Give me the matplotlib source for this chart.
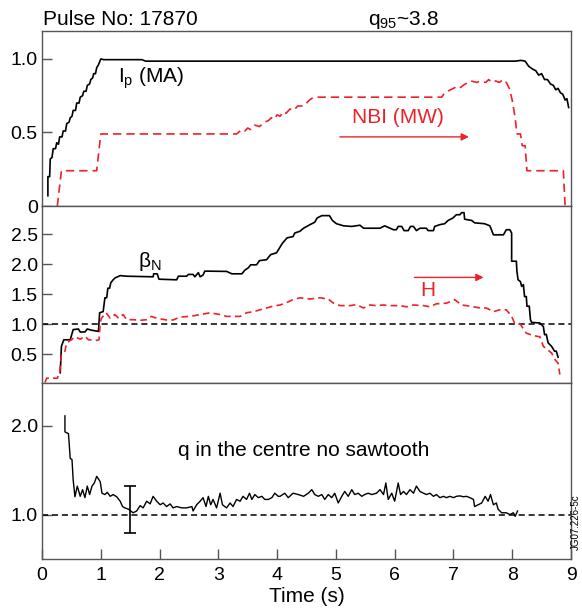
import numpy as np
import matplotlib
matplotlib.use("Agg")
import matplotlib.pyplot as plt

plt.rcParams['font.family'] = ['Liberation Sans', 'DejaVu Sans']
plt.rcParams['mathtext.default'] = 'regular'

RED = '#ec2228'
FRAME = '#555555'

# plasma current Ip (MA)
t_ip = [0.10, 0.10, 0.13, 0.14, 0.17, 0.19, 0.23, 0.25, 0.28, 0.30,
        0.34, 0.36, 0.40, 0.42, 0.46, 0.48, 0.51, 0.53, 0.57, 0.59,
        0.63, 0.65, 0.69, 0.71, 0.75, 0.77, 0.81, 0.83, 0.86, 0.88,
        0.91, 0.93, 0.96, 1.00, 1.05, 1.70, 1.76, 8.05, 8.15, 8.22,
        8.28, 8.35, 8.40, 8.45, 8.50, 8.55, 8.60, 8.65, 8.70, 8.74,
        8.78, 8.82, 8.86, 8.90, 8.93, 8.96]
ip = [0.07, 0.20, 0.20, 0.32, 0.33, 0.39, 0.39, 0.43, 0.42, 0.47,
      0.47, 0.51, 0.51, 0.56, 0.57, 0.60, 0.61, 0.65, 0.65, 0.70,
      0.70, 0.74, 0.75, 0.78, 0.78, 0.82, 0.83, 0.86, 0.87, 0.90,
      0.90, 0.94, 0.96, 1.00, 0.995, 0.995, 0.985, 0.985, 0.99, 0.985,
      0.95, 0.93, 0.92, 0.89, 0.90, 0.86, 0.86, 0.83, 0.82, 0.79,
      0.80, 0.77, 0.76, 0.72, 0.73, 0.67]

# NBI power (MW)
t_nbi = [0.26, 0.33, 0.93, 1.00, 3.31, 3.40, 3.45, 3.50, 3.55, 3.62,
         3.70, 3.78, 3.85, 3.90, 3.95, 4.00, 4.05, 4.10, 4.15, 4.22,
         4.28, 4.35, 4.45, 4.55, 4.62, 6.80, 6.85, 6.95, 7.05, 7.10,
         7.20, 7.30, 7.40, 7.45, 7.55, 7.60, 7.65, 7.72, 7.78, 7.85,
         7.90, 7.95, 8.00, 8.05, 8.08, 8.14, 8.17, 8.22, 8.25, 8.87,
         8.90]
nbi = [0.0, 0.24, 0.24, 0.49, 0.49, 0.52, 0.51, 0.53, 0.52, 0.55,
       0.54, 0.57, 0.58, 0.60, 0.59, 0.62, 0.61, 0.64, 0.63, 0.66,
       0.65, 0.68, 0.68, 0.72, 0.74, 0.74, 0.77, 0.79, 0.81, 0.80,
       0.83, 0.85, 0.84, 0.85, 0.84, 0.86, 0.84, 0.85, 0.84, 0.86,
       0.84, 0.80, 0.72, 0.60, 0.49, 0.49, 0.41, 0.41, 0.24, 0.24,
       0.0]

# normalised beta
t_bn = [0.31, 0.33, 0.37, 0.48, 0.53, 0.62, 0.65, 0.73, 0.77, 0.84,
        0.96, 0.98, 1.04, 1.07, 1.10, 1.12, 1.15, 1.17, 1.21, 1.24,
        1.33, 1.44, 1.89, 1.90, 1.96, 1.99, 2.29, 2.32, 2.46, 2.49,
        2.57, 2.60, 2.66, 2.69, 2.74, 2.77, 3.14, 3.23, 3.40, 3.45,
        3.51, 3.55, 3.65, 3.70, 3.82, 3.89, 3.99, 4.04, 4.09, 4.17,
        4.27, 4.30, 4.39, 4.45, 4.56, 4.64, 4.68, 4.76, 4.89, 4.94,
        5.01, 5.13, 5.27, 5.41, 5.47, 5.75, 5.83, 5.98, 6.03, 6.06,
        6.12, 6.16, 6.23, 6.27, 6.32, 6.37, 6.43, 6.54, 6.57, 6.66,
        6.68, 6.77, 6.85, 6.91, 6.99, 7.05, 7.11, 7.14, 7.18, 7.19,
        7.31, 7.36, 7.53, 7.62, 7.68, 7.85, 7.90, 7.96, 7.99, 7.99,
        8.07, 8.08, 8.10, 8.14, 8.16, 8.19, 8.21, 8.24, 8.25, 8.29,
        8.31, 8.33, 8.47, 8.53, 8.55, 8.58, 8.61, 8.67, 8.72, 8.75,
        8.78]
beta_n = [0.19, 0.63, 0.74, 0.74, 0.91, 0.92, 0.87, 0.87, 0.92, 0.90,
          0.88, 1.19, 1.21, 1.44, 1.44, 1.60, 1.60, 1.69, 1.74, 1.77,
          1.81, 1.80, 1.79, 1.84, 1.84, 1.75, 1.74, 1.80, 1.80, 1.83,
          1.83, 1.79, 1.86, 1.79, 1.82, 1.885, 1.88, 1.84, 1.84, 1.90,
          1.94, 1.99, 1.99, 2.06, 2.075, 2.16, 2.19, 2.27, 2.35, 2.44,
          2.46, 2.52, 2.55, 2.60, 2.66, 2.70, 2.77, 2.81, 2.81, 2.73,
          2.675, 2.64, 2.63, 2.65, 2.60, 2.60, 2.64, 2.575, 2.575, 2.63,
          2.63, 2.56, 2.56, 2.63, 2.63, 2.56, 2.60, 2.60, 2.56, 2.56,
          2.63, 2.66, 2.675, 2.73, 2.77, 2.825, 2.825, 2.86, 2.86, 2.75,
          2.73, 2.69, 2.675, 2.64, 2.49, 2.49, 2.575, 2.575, 2.52, 2.05,
          2.05, 1.88, 1.74, 1.71, 1.63, 1.66, 1.46, 1.46, 1.30, 1.30,
          1.075, 1.03, 1.02, 0.96, 0.825, 0.83, 0.69, 0.63, 0.55, 0.55,
          0.45]

# confinement factor H
t_h = [0.05, 0.08, 0.26, 0.30, 0.33, 0.39, 0.42, 0.50, 0.56, 0.65,
       0.73, 0.79, 0.93, 0.97, 0.99, 1.01, 1.09, 1.16, 1.24, 1.30,
       1.38, 1.44, 1.55, 1.67, 1.78, 1.86, 1.95, 2.12, 2.23, 2.35,
       2.52, 2.69, 2.86, 3.03, 3.14, 3.37, 3.48, 3.60, 3.71, 3.82,
       3.93, 4.05, 4.16, 4.27, 4.39, 4.56, 4.73, 4.87, 4.96, 5.07,
       5.24, 5.35, 5.47, 5.58, 5.69, 5.80, 5.92, 6.09, 6.20, 6.32,
       6.49, 6.60, 6.71, 6.88, 7.02, 7.14, 7.22, 7.34, 7.45, 7.56,
       7.68, 7.79, 7.90, 7.99, 8.04, 8.13, 8.24, 8.36, 8.47, 8.53,
       8.58, 8.67, 8.72, 8.78, 8.81]
h_fac = [0.03, 0.10, 0.10, 0.19, 0.49, 0.55, 0.69, 0.74, 0.79, 0.75,
         0.80, 0.74, 0.73, 0.74, 1.02, 1.10, 1.19, 1.10, 1.16, 1.10,
         1.16, 1.075, 1.075, 1.065, 1.075, 1.13, 1.10, 1.07, 1.07, 1.12,
         1.13, 1.16, 1.19, 1.16, 1.13, 1.13, 1.19, 1.21, 1.24, 1.27,
         1.30, 1.32, 1.36, 1.41, 1.44, 1.42, 1.44, 1.42, 1.35, 1.31,
         1.31, 1.325, 1.27, 1.32, 1.31, 1.32, 1.31, 1.31, 1.29, 1.32,
         1.31, 1.29, 1.34, 1.35, 1.41, 1.32, 1.31, 1.29, 1.27, 1.27,
         1.21, 1.24, 1.24, 1.13, 1.02, 1.01, 0.85, 0.81, 0.79, 0.63,
         0.59, 0.52, 0.42, 0.35, 0.16]

# central safety factor q0
t_q = [0.39, 0.39, 0.45, 0.48, 0.51, 0.53, 0.56, 0.60, 0.65, 0.69,
       0.73, 0.77, 0.81, 0.85, 0.89, 0.93, 0.99, 1.02, 1.07, 1.11,
       1.16, 1.21, 1.27, 1.33, 1.37, 1.41, 1.47, 1.55, 1.61, 1.67,
       1.72, 1.78, 1.84, 1.89, 1.95, 2.01, 2.06, 2.12, 2.18, 2.23,
       2.29, 2.38, 2.46, 2.55, 2.57, 2.63, 2.69, 2.74, 2.79, 2.83,
       2.87, 2.91, 2.97, 3.03, 3.07, 3.14, 3.20, 3.25, 3.31, 3.37,
       3.42, 3.48, 3.53, 3.57, 3.62, 3.68, 3.74, 3.79, 3.85, 3.91,
       3.96, 4.02, 4.05, 4.13, 4.19, 4.27, 4.36, 4.45, 4.53, 4.59,
       4.64, 4.70, 4.76, 4.81, 4.87, 4.93, 4.98, 5.04, 5.10, 5.15,
       5.21, 5.27, 5.32, 5.38, 5.44, 5.49, 5.55, 5.61, 5.69, 5.75,
       5.81, 5.85, 5.89, 5.95, 6.00, 6.06, 6.10, 6.15, 6.20, 6.26,
       6.32, 6.37, 6.43, 6.49, 6.54, 6.60, 6.66, 6.71, 6.77, 6.83,
       6.88, 6.94, 7.00, 7.05, 7.11, 7.17, 7.22, 7.28, 7.34, 7.36,
       7.42, 7.48, 7.54, 7.59, 7.63, 7.68, 7.73, 7.76, 7.82, 7.90,
       7.96, 8.02, 8.05, 8.09]
q0 = [2.11, 1.93, 1.91, 1.63, 1.62, 1.39, 1.20, 1.32, 1.205, 1.28,
      1.19, 1.32, 1.225, 1.32, 1.355, 1.43, 1.37, 1.24, 1.225, 1.25,
      1.205, 1.225, 1.20, 1.15, 1.09, 1.075, 1.06, 1.02, 1.04, 1.10,
      1.075, 1.15, 1.12, 1.205, 1.15, 1.11, 1.13, 1.09, 1.12, 1.075,
      1.09, 1.075, 1.075, 1.09, 1.04, 1.11, 1.15, 1.19, 1.09, 1.205,
      1.11, 1.17, 1.075, 1.24, 1.11, 1.075, 1.13, 1.09, 1.17, 1.15,
      1.205, 1.17, 1.24, 1.17, 1.225, 1.19, 1.205, 1.17, 1.17, 1.19,
      1.24, 1.205, 1.205, 1.24, 1.19, 1.24, 1.225, 1.205, 1.24, 1.28,
      1.225, 1.205, 1.225, 1.17, 1.225, 1.19, 1.24, 1.13, 1.205, 1.26,
      1.205, 1.28, 1.225, 1.24, 1.205, 1.225, 1.24, 1.225, 1.24, 1.28,
      1.225, 1.355, 1.17, 1.24, 1.15, 1.355, 1.225, 1.26, 1.225, 1.28,
      1.24, 1.32, 1.26, 1.24, 1.225, 1.24, 1.205, 1.225, 1.19, 1.205,
      1.19, 1.205, 1.19, 1.205, 1.21, 1.20, 1.205, 1.19, 1.17, 1.09,
      1.11, 1.13, 1.205, 1.15, 1.225, 1.11, 1.13, 1.06, 1.02, 1.02,
      1.00, 1.02, 0.98, 1.04]

# error bar on q0
err_t = 1.5
err_lo, err_hi = 0.79, 1.32


def style_axes(ax, show_x):
    for s in ax.spines.values():
        s.set_color(FRAME)
        s.set_linewidth(1.0)
    ax.tick_params(direction='in', length=7, width=1.0, color=FRAME,
                   labelsize=14, pad=3)
    ax.set_xlim(0, 9)
    if show_x:
        ax.set_xticks(range(10))
        ax.tick_params(axis='x', pad=6)
    else:
        ax.tick_params(axis='x', bottom=False, labelbottom=False)


fig = plt.figure(figsize=(5.82, 6.11), dpi=100)
ax1 = fig.add_axes([0.0722, 0.6628, 0.9089, 0.2865])
ax2 = fig.add_axes([0.0722, 0.3732, 0.9089, 0.2896])
ax3 = fig.add_axes([0.0722, 0.0851, 0.9089, 0.2881])

# top panel: Ip and NBI
ax1.plot(t_ip, ip, color='k', lw=1.2)
ax1.plot(t_nbi, nbi, color=RED, lw=1.2, ls=(0, (5, 3)))
ax1.set_ylim(0, 1.19)
ax1.set_yticks([0, 0.5, 1.0])
ax1.set_yticklabels(['0', '0.5', '1.0'])
style_axes(ax1, False)
ax1.text(1.29, 0.87, 'I$_p$ (MA)', fontsize=15, va='center')
ax1.text(6.05, 0.60, 'NBI (MW)', fontsize=15, color=RED, ha='center', va='center')
ax1.annotate('', xy=(7.31, 0.47), xytext=(5.02, 0.47),
             arrowprops=dict(arrowstyle='-|>', color=RED, lw=1.0, mutation_scale=11))

# middle panel: beta_N and H
ax2.axhline(1.0, color='k', lw=1.1, ls=(0, (4, 2.5)))
ax2.plot(t_bn, beta_n, color='k', lw=1.2)
ax2.plot(t_h, h_fac, color=RED, lw=1.2, ls=(0, (4, 2.5)))
ax2.set_ylim(0.02, 2.97)
ax2.set_yticks([0.5, 1.0, 1.5, 2.0, 2.5])
style_axes(ax2, False)
ax2.text(1.64, 2.05, 'β$_N$', fontsize=15, va='center')
ax2.text(6.56, 1.56, 'H', fontsize=15, color=RED, ha='center', va='center')
ax2.annotate('', xy=(7.56, 1.78), xytext=(6.29, 1.78),
             arrowprops=dict(arrowstyle='-|>', color=RED, lw=1.0, mutation_scale=11))

# bottom panel: q in the centre
ax3.axhline(1.0, color='k', lw=1.1, ls=(0, (4, 2.5)))
ax3.plot(t_q, q0, color='k', lw=1.0)
ax3.errorbar([err_t], [(err_lo + err_hi) / 2], yerr=[(err_hi - err_lo) / 2],
             fmt='none', ecolor='k', elinewidth=1.2, capsize=4, capthick=1.2)
ax3.set_ylim(0.5, 2.48)
ax3.set_yticks([1.0, 2.0])
ax3.set_yticklabels(['1.0', '2.0'])
style_axes(ax3, True)
ax3.text(2.31, 1.72, 'q in the centre no sawtooth', fontsize=15, va='center')
ax3.set_xlabel('Time (s)', fontsize=15, labelpad=2)

fig.text(0.074, 0.968, 'Pulse No: 17870', fontsize=15, va='center')
fig.text(0.693, 0.968, 'q$_{95}$~3.8', fontsize=15, ha='center', va='center')
fig.text(0.989, 0.145, 'JG07.226-5c', fontsize=7, rotation=90, ha='center', va='center')

fig.savefig('out.png', dpi=100)
